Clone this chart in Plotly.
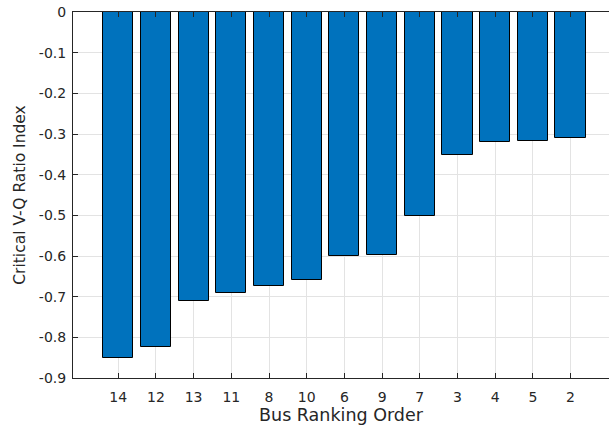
import plotly.graph_objects as go

# Buses in ranking order and their critical V-Q ratio index
bus_labels = ["14", "12", "13", "11", "8", "10", "6", "9", "7", "3", "4", "5", "2"]
vq_index = [-0.851, -0.823, -0.710, -0.690, -0.673, -0.659, -0.600, -0.598,
            -0.501, -0.351, -0.319, -0.318, -0.309]

y_ticks = [0, -0.1, -0.2, -0.3, -0.4, -0.5, -0.6, -0.7, -0.8, -0.9]
y_tick_text = ["0", "-0.1", "-0.2", "-0.3", "-0.4", "-0.5", "-0.6", "-0.7", "-0.8", "-0.9"]

positions = list(range(1, len(bus_labels) + 1))

font_family = "DejaVu Sans, Liberation Sans, Arial, sans-serif"
text_color = "#262626"
axis_color = "#262626"
grid_color = "#e3e3e3"

fig = go.Figure(
    go.Bar(
        x=positions,
        y=vq_index,
        width=0.8,
        marker=dict(color="#0072BD", line=dict(color="#000000", width=1)),
    )
)

fig.update_layout(
    width=609,
    height=428,
    margin=dict(l=73, r=0, t=12, b=50),
    paper_bgcolor="white",
    plot_bgcolor="white",
    showlegend=False,
    font=dict(family=font_family, size=14, color=text_color),
    bargap=0,
)

fig.update_xaxes(
    range=[-0.2, 14.02],
    tickmode="array",
    tickvals=positions,
    ticktext=bus_labels,
    ticks="inside",
    ticklen=5,
    tickwidth=1,
    tickcolor=axis_color,
    ticklabelstandoff=6,
    showline=True,
    linecolor=axis_color,
    linewidth=1,
    mirror="ticks",
    showgrid=True,
    gridcolor=grid_color,
    gridwidth=1,
    zeroline=False,
    tickfont=dict(size=14, color=text_color),
    title=dict(text="Bus Ranking Order", font=dict(size=17.5, color=text_color), standoff=3),
)

fig.update_yaxes(
    range=[-0.9, 0],
    tickmode="array",
    tickvals=y_ticks,
    ticktext=y_tick_text,
    ticks="inside",
    ticklen=5,
    tickwidth=1,
    tickcolor=axis_color,
    ticklabelstandoff=3,
    showline=True,
    linecolor=axis_color,
    linewidth=1,
    mirror=False,
    showgrid=True,
    gridcolor=grid_color,
    gridwidth=1,
    zeroline=False,
    tickfont=dict(size=14, color=text_color),
    title=dict(text="Critical V-Q Ratio Index", font=dict(size=15.5, color=text_color), standoff=9),
)

fig.write_html("out.html")
